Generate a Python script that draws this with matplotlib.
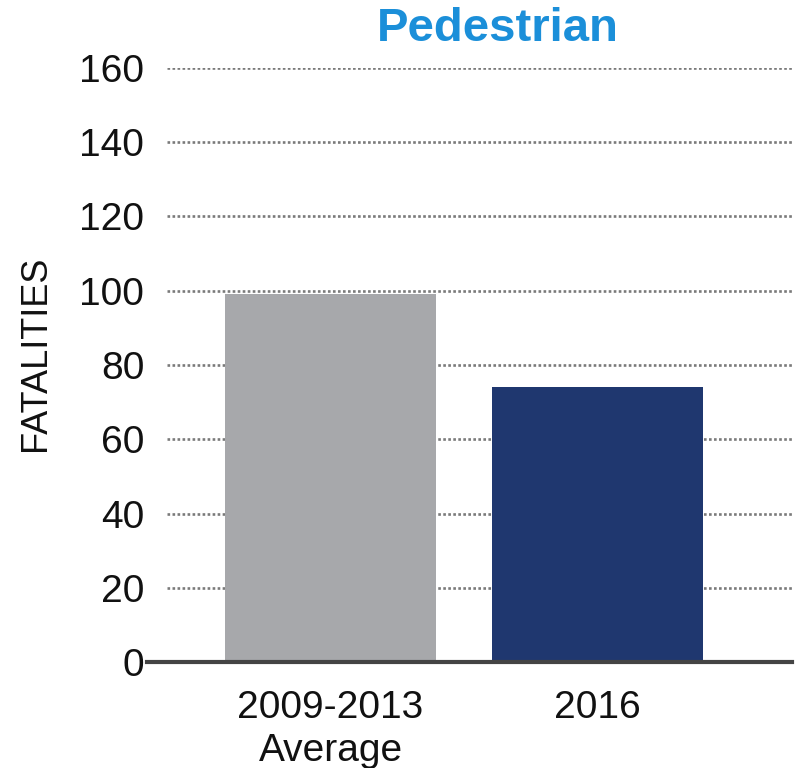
import matplotlib
matplotlib.use("Agg")
import matplotlib.pyplot as plt

categories = ["2009-2013\nAverage", "2016"]
values = [99, 74]
colors = ["#a7a8ab", "#1f376f"]
yticks = [0, 20, 40, 60, 80, 100, 120, 140, 160]
title = "Pedestrian"
ylabel = "FATALITIES"

plt.rcParams['font.family'] = ['Liberation Sans', 'DejaVu Sans']

fig = plt.figure(figsize=(8.01, 7.68), dpi=100)
ax = fig.add_axes([147/801, 1 - 662/768, 645/801, 594/768])

x = list(range(len(categories)))
ax.bar(x, values, width=0.79, color=colors, zorder=3, edgecolor="none")

ax.set_xlim(-0.687, 1.728)
ax.set_ylim(0, 160)

# dotted gridlines
gx0 = 20/645
for t in yticks[1:]:
    ax.axhline(t, xmin=gx0, xmax=1.0, color="#7a7a7a", linewidth=1.9,
               linestyle=(0, (1.0, 0.9)), zorder=1)
ax.axhline(0, color="#444444", linewidth=3.0, zorder=4, clip_on=False)

for s in ax.spines.values():
    s.set_visible(False)

ax.set_yticks(yticks)
ax.set_yticklabels([str(t) for t in yticks], fontsize=28, color="#111111")
ax.tick_params(axis="y", length=0, pad=2)
ax.set_xticks(x)
ax.set_xticklabels(categories, fontsize=28, color="#111111", linespacing=1.25)
ax.tick_params(axis="x", length=0, pad=20)

ax.set_ylabel(ylabel, fontsize=26, color="#111111")
ax.yaxis.set_label_coords(-0.145, 0.52)

fig.text(498/801, 1 - 29/768, title, fontsize=34, fontweight="bold",
         color="#1b8fd9", ha="center", va="center")

fig.savefig("out.png", dpi=100)
